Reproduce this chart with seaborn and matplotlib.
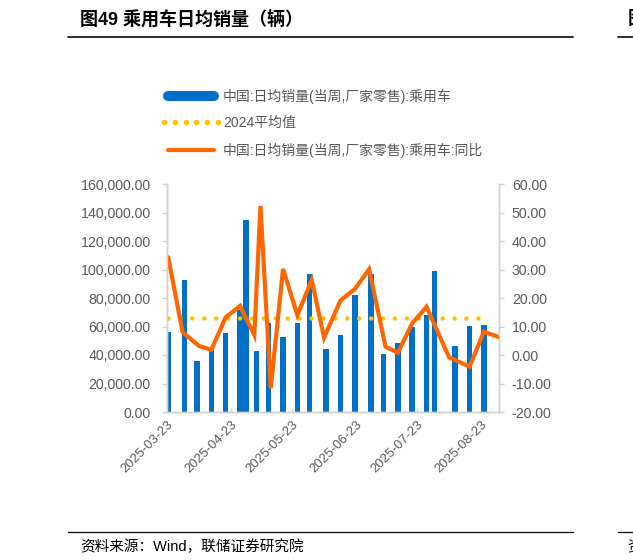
import matplotlib
matplotlib.use("Agg")
import matplotlib.pyplot as plt
import matplotlib.dates as mdates
from matplotlib.lines import Line2D
from matplotlib.legend_handler import HandlerLine2D
from matplotlib.ticker import FuncFormatter, MultipleLocator
import seaborn as sns
import pandas as pd
import numpy as np

# ---------------- data ----------------
bar_dates = ["2025-03-23", "2025-03-31", "2025-04-06", "2025-04-13", "2025-04-20",
             "2025-04-27", "2025-04-30", "2025-05-05", "2025-05-11", "2025-05-18",
             "2025-05-25", "2025-05-31", "2025-06-08", "2025-06-15", "2025-06-22",
             "2025-06-30", "2025-07-06", "2025-07-13", "2025-07-20", "2025-07-27",
             "2025-07-31", "2025-08-10", "2025-08-17", "2025-08-24"]
bar_values = [56000, 92600, 35800, 44200, 55600,
              71600, 134700, 42800, 62200, 52800,
              62200, 96800, 44000, 54000, 82100,
              96800, 40700, 48600, 59400, 68000,
              98900, 46300, 60400, 61000]

yoy_dates = ["2025-03-23", "2025-03-30", "2025-04-07", "2025-04-13", "2025-04-20",
             "2025-04-27", "2025-05-04", "2025-05-07", "2025-05-12", "2025-05-18",
             "2025-05-25", "2025-06-01", "2025-06-07", "2025-06-15", "2025-06-22",
             "2025-06-29", "2025-07-07", "2025-07-13", "2025-07-20", "2025-07-27",
             "2025-08-07", "2025-08-17", "2025-08-24", "2025-09-01"]
yoy_values = [34.3, 8.0, 3.2, 1.8, 13.2,
              17.2, 7.0, 52.3, -11.7, 30.2,
              14.0, 26.3, 6.1, 19.1, 23.1,
              30.1, 2.9, 0.8, 11.1, 16.9,
              -0.8, -4.1, 8.2, 6.1]

avg_2024 = 65700

tick_dates = ["2025-03-23", "2025-04-23", "2025-05-23", "2025-06-23", "2025-07-23", "2025-08-23"]
x_range = ["2025-03-23", "2025-09-01"]

label_bar = "中国:日均销量(当周,厂家零售):乘用车"
label_avg = "2024平均值"
label_yoy = "中国:日均销量(当周,厂家零售):乘用车:同比"
title = "图49 乘用车日均销量（辆）"
source = "资料来源：Wind，联储证券研究院"

# ---------------- style ----------------
BLUE = "#0070C8"
ORANGE = "#FF6600"
YELLOW = "#FFC000"
AXIS = "#D0D0D0"
TXT = "#595959"

sns.set_theme(style="white")
plt.rcParams['font.family'] = ['Liberation Sans', 'Noto Sans CJK SC', 'DejaVu Sans']

W, H = 633, 560
fig = plt.figure(figsize=(W / 100, H / 100), dpi=100)
L, R, T, B = 167.2, 499.3, 184, 412
ax = fig.add_axes([L / W, 1 - B / H, (R - L) / W, (B - T) / H])
ax2 = ax.twinx()

# Excel date axis: a day's bar/point sits at the middle of that day
half_day = 0.5
bx = mdates.date2num(pd.to_datetime(bar_dates)) + half_day
lx = mdates.date2num(pd.to_datetime(yoy_dates)) + half_day

bar_df = pd.DataFrame({"x": bx, "v": bar_values})
sns.barplot(data=bar_df, x="x", y="v", native_scale=True, color=BLUE,
            saturation=1, width=0.9, linewidth=0, ax=ax, zorder=2)

avg_df = pd.DataFrame({"x": [bx[0], bx[-1]], "v": [avg_2024, avg_2024]})
sns.lineplot(data=avg_df, x="x", y="v", ax=ax, color=YELLOW, lw=3.3, zorder=3)
avg_line = ax.lines[-1]
avg_line.set_linestyle((0, (0.001, 2.6)))
avg_line.set_dash_capstyle("round")

yoy_df = pd.DataFrame({"x": lx, "v": yoy_values})
sns.lineplot(data=yoy_df, x="x", y="v", ax=ax2, color=ORANGE, lw=3.0)
ax2.lines[-1].set_solid_capstyle("round")
ax2.lines[-1].set_solid_joinstyle("miter")

# ---------------- axes ----------------
xr = mdates.date2num(pd.to_datetime(x_range))
ax.set_xlim(xr[0], xr[1])
ax.set_ylim(0, 160000)
ax2.set_ylim(-20, 60)
ax.yaxis.set_major_locator(MultipleLocator(20000))
ax2.yaxis.set_major_locator(MultipleLocator(10))
ax.yaxis.set_major_formatter(FuncFormatter(lambda v, p: f"{v:,.2f}"))
ax2.yaxis.set_major_formatter(FuncFormatter(lambda v, p: f"{v:.2f}"))
ax.set_xticks(mdates.date2num(pd.to_datetime(tick_dates)))
ax.set_xticklabels(tick_dates)
for lab in ax.get_xticklabels():
    lab.set_rotation(45)
    lab.set_ha("right")
    lab.set_va("top")
    lab.set_rotation_mode("anchor")

for a in (ax, ax2):
    a.set_xlabel("")
    a.set_ylabel("")
    a.grid(False)
    a.patch.set_visible(False)
    for s in a.spines.values():
        s.set_color(AXIS)
        s.set_linewidth(1.0)
    a.spines["top"].set_visible(False)

ax.tick_params(axis="y", which="major", direction="out", length=3.5, width=1,
               color=AXIS, labelsize=10.2, labelcolor=TXT, pad=8.5, left=True)
ax2.tick_params(axis="y", which="major", direction="out", length=3.5, width=1,
                color=AXIS, labelsize=10.2, labelcolor=TXT, pad=5.5, right=True)
ax.tick_params(axis="x", which="major", direction="in", length=3, width=1,
               color=AXIS, labelsize=9.5, labelcolor=TXT, pad=5, bottom=True)
ax.set_zorder(1)
ax2.set_zorder(2)

# ---------------- legend ----------------
h_bar = Line2D([], [], color=BLUE, lw=7.2, solid_capstyle="round")
h_avg = Line2D([], [], color=YELLOW, linestyle="none", marker="o",
               markersize=4.0, markeredgewidth=0)
h_yoy = Line2D([], [], color=ORANGE, lw=3.0, solid_capstyle="round")
leg = fig.legend([h_bar, h_avg, h_yoy], [label_bar, label_avg, label_yoy], loc="upper left",
                 bbox_to_anchor=(168 / W, 1 - 88.5 / H), frameon=False,
                 fontsize=10, handlelength=3.3, handletextpad=0.65, labelspacing=0.9,
                 borderpad=0, borderaxespad=0,
                 handler_map={h_avg: HandlerLine2D(numpoints=6, marker_pad=-0.3)})
for t in leg.get_texts():
    t.set_color(TXT)

# ---------------- title, rules, source ----------------
fig.text(80 / W, 1 - 20 / H, title, fontsize=13, fontweight="bold", color="black",
         va="center", ha="left")
fig.text(628 / W, 1 - 20 / H, "图", fontsize=13, fontweight="bold", color="black",
         va="center", ha="left")
for (x0, x1) in ((68, 573), (618, 633)):
    fig.add_artist(Line2D([x0 / W, x1 / W], [1 - 36.5 / H] * 2, color="#1a1a1a", lw=1.3))
    fig.add_artist(Line2D([x0 / W, x1 / W], [1 - 532 / H] * 2, color="#1a1a1a", lw=1.0))
fig.text(80 / W, 1 - 546.5 / H, source, fontsize=10.5, color="black", va="center", ha="left")
fig.text(627 / W, 1 - 546.5 / H, "资", fontsize=10.5, color="black", va="center", ha="left")

fig.savefig("out.png", dpi=100)
